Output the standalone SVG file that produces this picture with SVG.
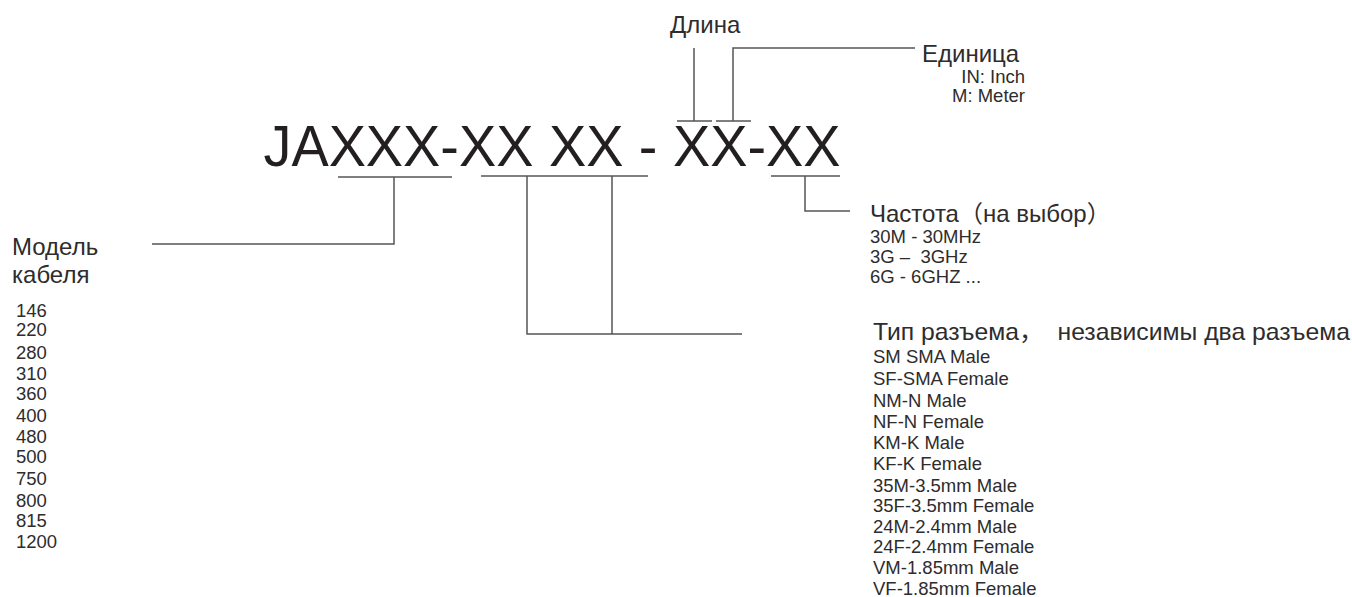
<svg xmlns="http://www.w3.org/2000/svg" width="1352" height="597" viewBox="0 0 1352 597">
<style>
text{font-family:"Liberation Sans","Noto Sans CJK SC",sans-serif;fill:#2e2c2c;white-space:pre}
.big{font-size:57px;fill:#231f20}
.h{font-size:24px}
.s{font-size:18.5px}
.ln{fill:none;stroke:#555;stroke-width:1.5}
</style>
<rect width="1352" height="597" fill="#fff"/>
<g id="code"><text class="big" x="263.5" y="166" textLength="577" lengthAdjust="spacingAndGlyphs">JAXXX-XX XX - XX-XX</text></g>
<g id="connectors">
<path class="ln" d="M338 177H452M394 177V244H152"/>
<path class="ln" d="M481 176H648M527 176V334H742M612 176V334"/>
<path class="ln" d="M771 176H840M805 176V211H850"/>
<path class="ln" d="M677 121H712M694 121V48"/>
<path class="ln" d="M716 121H751M733 121V48H915"/>
</g>
<g id="length"><text class="h" x="670" y="33">Длина</text></g>
<g id="unit">
<text class="h" x="922" y="62">Единица</text>
<text class="s" x="1025" y="83" text-anchor="end">IN: Inch</text>
<text class="s" x="1025" y="102" text-anchor="end">M: Meter</text>
</g>
<g id="model">
<text class="h" x="12" y="255">Модель</text>
<text class="h" x="12" y="283">кабеля</text>
<text class="s" x="16" y="317">146</text>
<text class="s" x="16" y="336">220</text>
<text class="s" x="16" y="359">280</text>
<text class="s" x="16" y="380">310</text>
<text class="s" x="16" y="400">360</text>
<text class="s" x="16" y="422">400</text>
<text class="s" x="16" y="443">480</text>
<text class="s" x="16" y="463">500</text>
<text class="s" x="16" y="485">750</text>
<text class="s" x="16" y="507">800</text>
<text class="s" x="16" y="527">815</text>
<text class="s" x="16" y="548">1200</text>
</g>
<g id="frequency">
<text class="h" x="870" y="222">Частота（на выбор）</text>
<text class="s" x="870" y="243">30M - 30MHz</text>
<text class="s" x="870" y="263">3G –  3GHz</text>
<text class="s" x="870" y="283">6G - 6GHZ ...</text>
</g>
<g id="connector-type">
<text class="h" x="873" y="340" textLength="477" lengthAdjust="spacingAndGlyphs">Тип разъема，  независимы два разъема</text>
<text class="s" x="873" y="363">SM SMA Male</text>
<text class="s" x="873" y="385">SF-SMA Female</text>
<text class="s" x="873" y="407">NM-N Male</text>
<text class="s" x="873" y="428">NF-N Female</text>
<text class="s" x="873" y="449">KM-K Male</text>
<text class="s" x="873" y="470">KF-K Female</text>
<text class="s" x="873" y="492">35M-3.5mm Male</text>
<text class="s" x="873" y="512">35F-3.5mm Female</text>
<text class="s" x="873" y="533">24M-2.4mm Male</text>
<text class="s" x="873" y="553">24F-2.4mm Female</text>
<text class="s" x="873" y="574">VM-1.85mm Male</text>
<text class="s" x="873" y="595">VF-1.85mm Female</text>
</g>
</svg>
